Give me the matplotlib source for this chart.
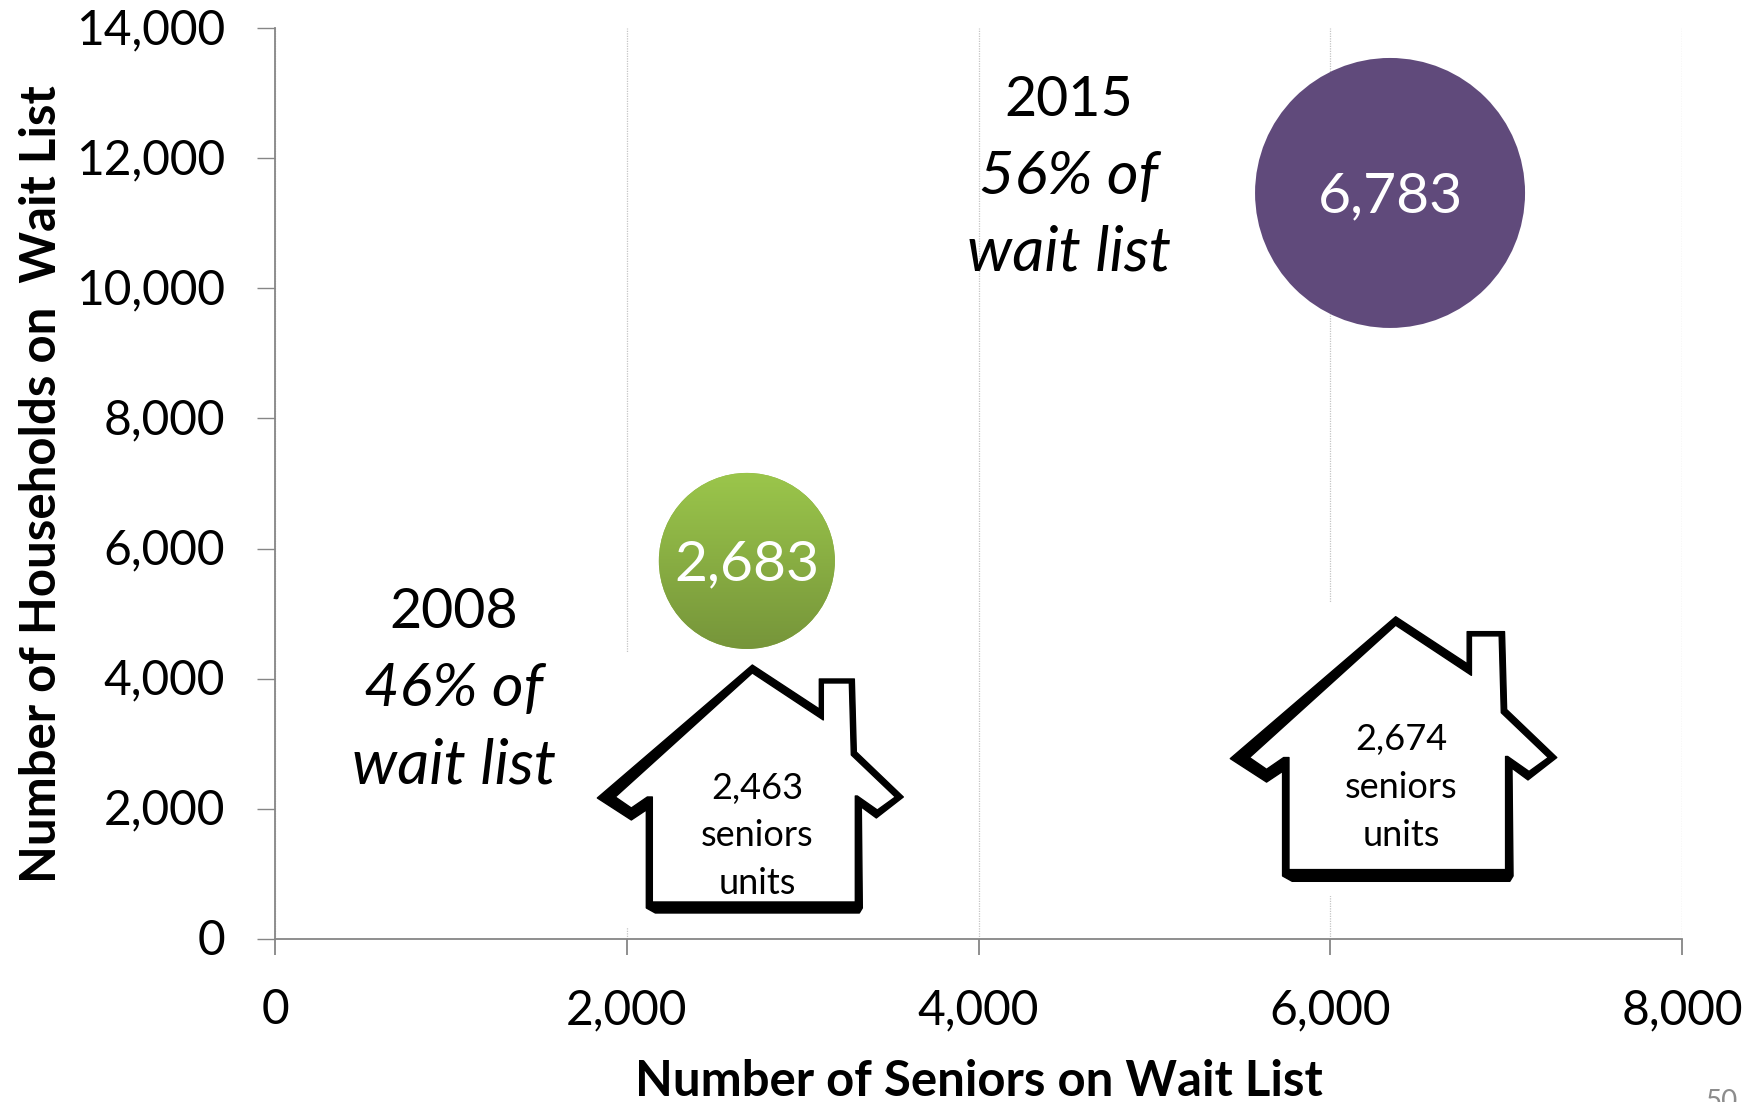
import numpy as np
import matplotlib
matplotlib.use("Agg")
import matplotlib.pyplot as plt
from matplotlib.patches import PathPatch, Circle, Rectangle
from matplotlib.path import Path
from matplotlib.transforms import Affine2D, IdentityTransform, ScaledTranslation
from matplotlib.colors import LinearSegmentedColormap

W, H = 1759, 1102
plt.rcParams['font.family'] = ['Lato', 'DejaVu Sans']

# data
years = ['2008', '2015']
shares = ['46% of', '56% of']
seniors_x = [2683, 6340]
households_y = [5810, 11465]
bubble_values = [2683, 6783]
bubble_labels = ['2,683', '6,783']
unit_labels = ['2,463\nseniors\nunits', '2,674\nseniors\nunits']
house_x = [2714, 6372]
house_y = [4211, 4953]
house_scale = [1.0, 1.067]
x_ticks = [0, 2000, 4000, 6000, 8000]
y_ticks = [0, 2000, 4000, 6000, 8000, 10000, 12000, 14000]

# house icon outline, in pixels relative to the roof apex
outer = [(0,0),(67,44),(67,14),(102,14),(104,87),(151,132),(124,153),(109,142),
         (110,243),(107,248),(-97,248),(-106,243),(-106,145),(-121,155),(-155,133)]
inner = [(0,8),(71,55),(71,18),(97,18),(99,90),(143,132),(125,145),(105,131),(103,131),
         (103,237),(-100,237),(-100,132),(-105,132),(-121,143),(-137,132)]

fig = plt.figure(figsize=(W/100, H/100), dpi=100, facecolor='white')
ax = fig.add_axes([275/W, 1-939/H, (1682-275)/W, (939-28)/H])
ax.set_xlim(0, 8000)
ax.set_ylim(0, 14000)

for s in ['top', 'right']:
    ax.spines[s].set_visible(False)
for s in ['left', 'bottom']:
    ax.spines[s].set_color('#868686')
    ax.spines[s].set_linewidth(1.3)

ax.set_xticks(x_ticks)
ax.set_yticks(y_ticks)
ax.set_xticklabels([f'{v:,}' for v in x_ticks])
ax.set_yticklabels([f'{v:,}' for v in y_ticks])
ax.tick_params(axis='x', length=11.5, width=1.3, color='#868686', labelsize=34.5, pad=24, labelcolor='black')
ax.tick_params(axis='y', length=13, width=1.0, color='#868686', labelsize=34.5, pad=23, labelcolor='black')
up = ScaledTranslation(0, 2.0 / 100, fig.dpi_scale_trans)
for lab in ax.get_yticklabels():
    lab.set_transform(lab.get_transform() + up)
ax.xaxis.grid(True, color='#c4c4c4', linestyle=(0, (1, 1)), linewidth=0.9, zorder=0)
ax.set_axisbelow(True)

fig.text(979/W, 1-1082/H, 'Number of Seniors on Wait List', fontsize=35.4, fontweight='bold',
         ha='center', va='center')
fig.text(42/W, 1-484/H, 'Number of Households on  Wait List', fontsize=35.4, fontweight='bold',
         rotation=90, ha='center', va='center')

# bubbles: radius in pixels
radii = [88, 135]
sizes = [(r * 72 / 100 * 2) ** 2 for r in radii]
colors = ['#8cb043', '#604a7b']
ax.scatter(seniors_x, households_y, s=sizes, c=colors, linewidths=0, zorder=3, clip_on=False)

# gradient fill of the green bubble
cx, cy = ax.transData.transform((seniors_x[0], households_y[0]))
cmap = LinearSegmentedColormap.from_list('g', ['#76953a', '#9bc64b'])
grad = np.linspace(0, 1, 256).reshape(-1, 1)
im = ax.imshow(grad, extent=[0, 1, 0, 1], origin='lower', cmap=cmap, aspect='auto', zorder=3.5,
               transform=Affine2D().scale(2*radii[0]+2, 2*radii[0]+2).translate(cx-radii[0]-1, cy-radii[0]-1))
im.set_clip_path(Circle((cx, cy), radii[0], transform=IdentityTransform()))
ax.set_xlim(0, 8000)
ax.set_ylim(0, 14000)

for x, y, t in zip(seniors_x, households_y, bubble_labels):
    tx, ty = ax.transData.transform((x, y))
    ax.text(tx, ty - 4, t, transform=IdentityTransform(), color='white', fontsize=41, ha='center', va='center', zorder=5)

# houses
def closed(pts):
    return list(pts) + [pts[0]]
verts = closed(outer) + closed(inner[::-1])
codes = ([Path.MOVETO] + [Path.LINETO]*(len(outer)-1) + [Path.CLOSEPOLY] +
         [Path.MOVETO] + [Path.LINETO]*(len(inner)-1) + [Path.CLOSEPOLY])
house_path = Path(verts, codes)
fill_path = Path(closed(outer), [Path.MOVETO] + [Path.LINETO]*(len(outer)-1) + [Path.CLOSEPOLY])

for hx, hy, sc, lab in zip(house_x, house_y, house_scale, unit_labels):
    px, py = ax.transData.transform((hx, hy))
    tr = Affine2D().scale(sc, -sc).translate(px, py)
    # white backing that interrupts the gridlines behind the icon
    ax.add_patch(Rectangle((px-200*sc, py-262*sc), 400*sc, 275*sc, transform=IdentityTransform(),
                           facecolor='white', edgecolor='none', zorder=1))
    ax.add_patch(PathPatch(fill_path, transform=tr, facecolor='white', edgecolor='none', zorder=2))
    ax.add_patch(PathPatch(house_path, transform=tr, facecolor='black', edgecolor='black',
                           linewidth=1.0, joinstyle='round', zorder=4))
    tx, ty = px + 5*sc, py - 171
    ax.text(tx, ty, lab, transform=IdentityTransform(), fontsize=26, ha='center', va='center',
            linespacing=1.55, zorder=5)

# year annotations (pixel placement of free text)
note_x = [454, 1069]
note_y = [[613, 689, 766], [101, 177, 253]]
for year, share, nx, ny in zip(years, shares, note_x, note_y):
    fig.text(nx/W, 1-ny[0]/H, year, fontsize=40, ha='center', va='center')
    fig.text(nx/W, 1-ny[1]/H, share, fontsize=44, style='italic', ha='center', va='center')
    fig.text(nx/W, 1-ny[2]/H, 'wait list', fontsize=45, style='italic', ha='center', va='center')

fig.text(1722/W, 1-1089/H, '50', fontsize=20, color='#8c8c8c', ha='center', va='top')

fig.savefig('out.png', dpi=100, facecolor='white')
